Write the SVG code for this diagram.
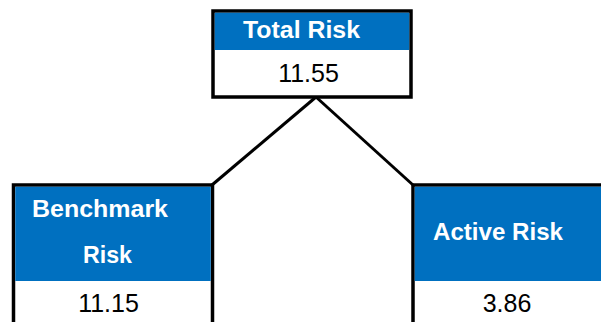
<svg xmlns="http://www.w3.org/2000/svg" width="601" height="322" viewBox="0 0 601 322">
<style>
.box{fill:#ffffff;stroke:#000000;stroke-width:3.5}
.hdr{fill:#0070C0}
.h{font-family:"Liberation Sans",Arial,sans-serif;font-weight:bold;font-size:24px;fill:#ffffff}
.v{font-family:"Liberation Sans",Arial,sans-serif;font-size:25px;fill:#000000;text-anchor:middle}
.conn{stroke:#000000;stroke-width:3;fill:none}
</style>
<rect width="601" height="322" fill="#ffffff"/>
<g id="connectors">
<line class="conn" x1="316" y1="97" x2="212" y2="185"/>
<line class="conn" x1="316" y1="97" x2="413" y2="185"/>
</g>
<g id="total">
<rect class="box" x="213" y="11" width="198" height="86"/>
<rect class="hdr" x="214.75" y="12.75" width="194.5" height="37.25"/>
<text class="h" x="243" y="38" textLength="117" lengthAdjust="spacingAndGlyphs">Total Risk</text>
<text class="v" x="308.5" y="82">11.55</text>
</g>
<g id="benchmark">
<rect class="box" x="13.5" y="185" width="199" height="150"/>
<rect class="hdr" x="15.25" y="186.75" width="195.5" height="94.25"/>
<text class="h" x="32" y="217" textLength="136" lengthAdjust="spacingAndGlyphs">Benchmark</text>
<text class="h" x="83" y="263" textLength="49" lengthAdjust="spacingAndGlyphs">Risk</text>
<text class="v" x="108.5" y="312">11.15</text>
</g>
<g id="active">
<rect class="box" x="413" y="185" width="200" height="150"/>
<rect class="hdr" x="414.75" y="186.75" width="198" height="94.25"/>
<text class="h" x="433" y="240" textLength="130" lengthAdjust="spacingAndGlyphs">Active Risk</text>
<text class="v" x="507" y="312">3.86</text>
</g>
</svg>
